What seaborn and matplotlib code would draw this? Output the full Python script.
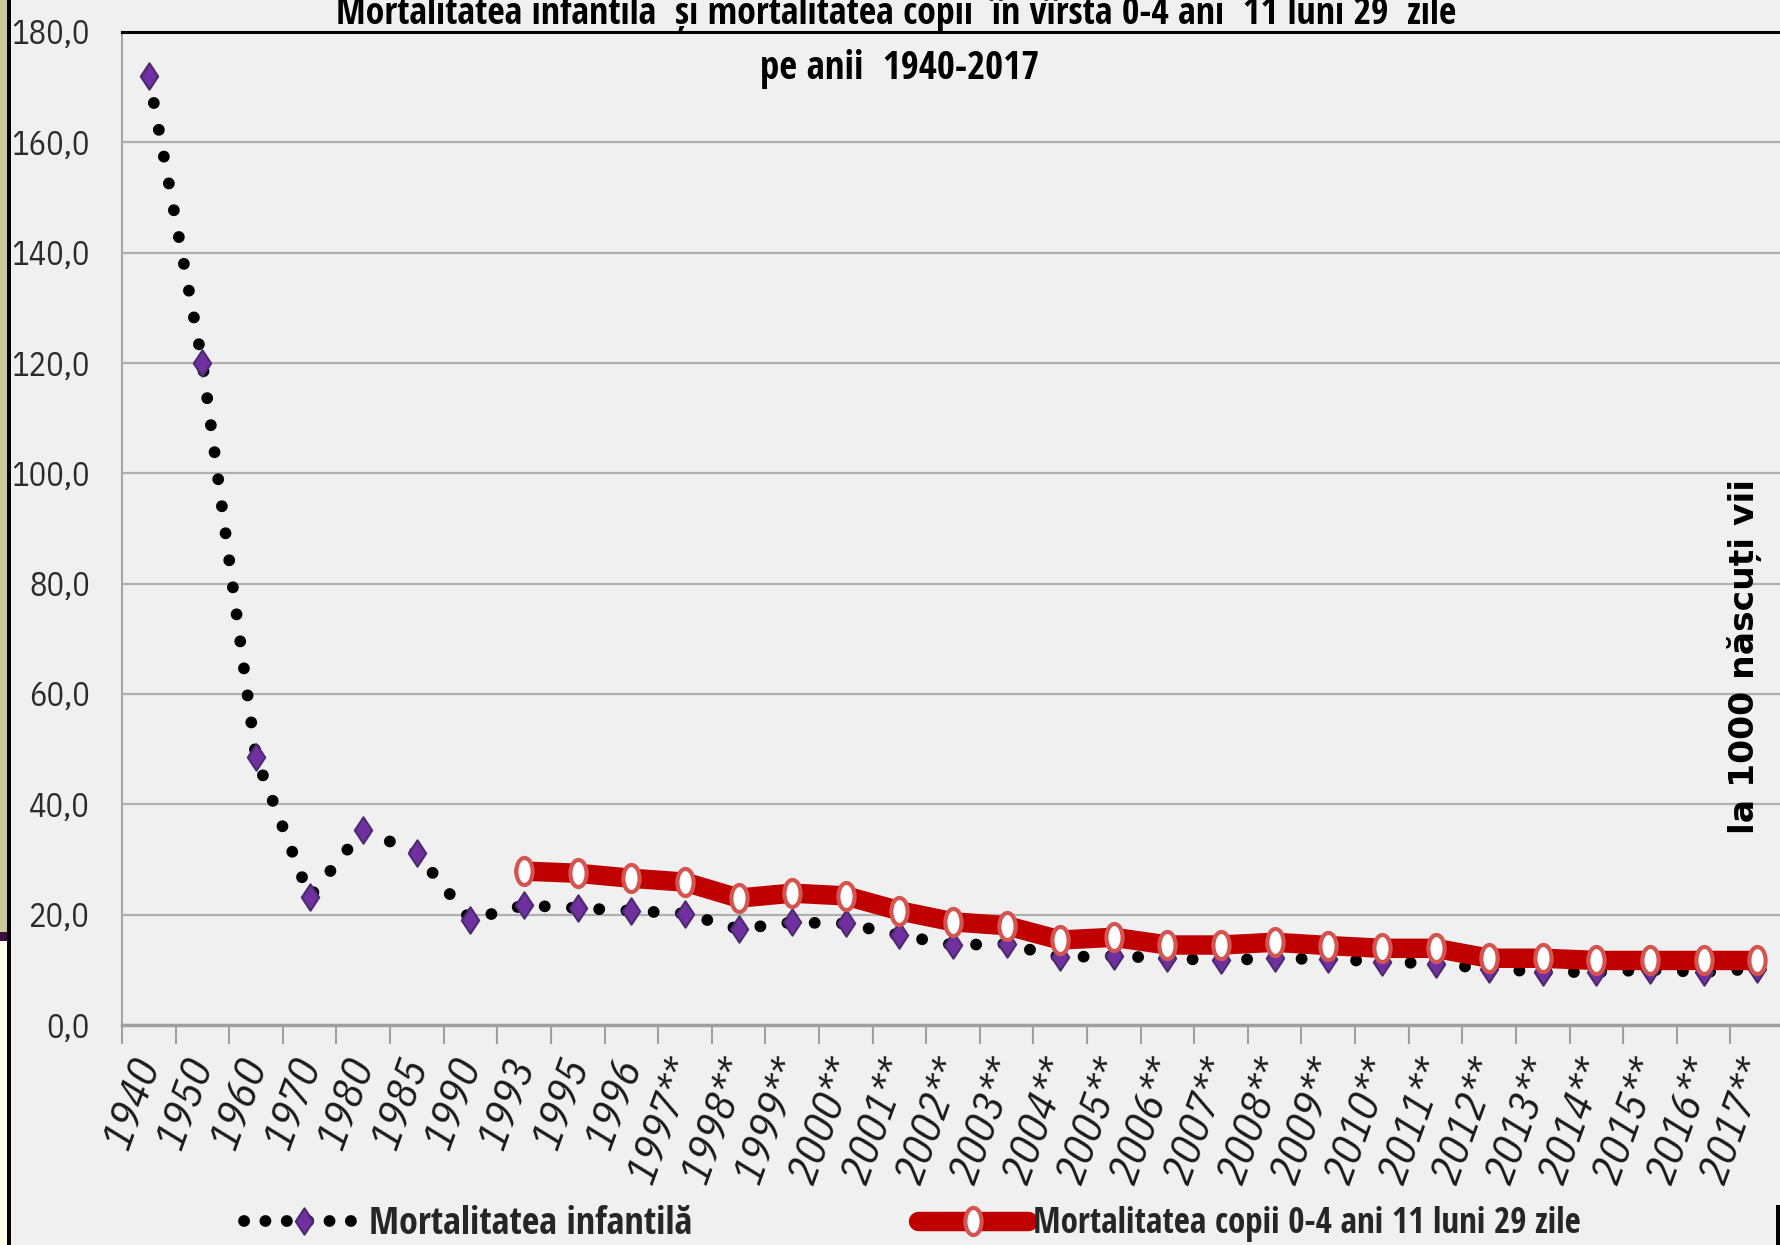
import matplotlib
matplotlib.use("Agg")
import matplotlib.pyplot as plt
import numpy as np
import pandas as pd
import seaborn as sns
from matplotlib.lines import Line2D
from matplotlib.path import Path
from matplotlib.patches import Rectangle
from matplotlib.transforms import Affine2D
from matplotlib.ticker import FuncFormatter

# categories (years) and the two series
years = ["1940", "1950", "1960", "1970", "1980", "1985", "1990", "1993", "1995", "1996",
         "1997**", "1998**", "1999**", "2000**", "2001**", "2002**", "2003**", "2004**",
         "2005**", "2006**", "2007**", "2008**", "2009**", "2010**", "2011**", "2012**",
         "2013**", "2014**", "2015**", "2016**", "2017**"]

infant = [172.0, 120.0, 48.5, 23.2, 35.4, 31.1, 19.1, 21.7, 21.2, 20.7,
          20.2, 17.4, 18.6, 18.4, 16.3, 14.5, 14.7, 12.3, 12.5, 12.1, 11.7,
          12.1, 11.9, 11.5, 11.1, 10.2, 9.6, 9.6, 10.0, 9.6, 10.2]

under5 = [np.nan] * 7 + [27.9, 27.5, 26.6,
                         25.9, 23.0, 23.9, 23.4, 20.7, 18.7, 18.0, 15.4, 15.9, 14.5, 14.5,
                         15.0, 14.4, 13.9, 13.9, 12.1, 12.1, 11.7, 11.7, 11.7, 11.7]

title = "Mortalitatea infantila  și mortalitatea copii  în vîrsta 0-4 ani  11 luni 29  zile"
subtitle = "pe anii  1940-2017"
unit_label = "la 1000 născuți vii"
label_infant = "Mortalitatea infantilă"
label_under5 = "Mortalitatea copii 0-4 ani 11 luni 29 zile"

sns.set_theme(style="white")
narrow = ["IBM Plex Sans Condensed", "DejaVu Sans"]
narrow_bold = ["Open Sans Condensed", "IBM Plex Sans Condensed", "DejaVu Sans"]
plt.rcParams["font.family"] = narrow

W, H = 1781, 1245
BG = "#f0f0f0"
fig = plt.figure(figsize=(W / 100, H / 100), dpi=100, facecolor=BG)
renderer = fig.canvas.get_renderer()


def fit_size(s, target_px, base=20, **kw):
    # font size that makes text s about target_px wide
    t = fig.text(0, 0, s, fontsize=base, **kw)
    w = t.get_window_extent(renderer).width
    t.remove()
    return base * target_px / w


ax = fig.add_axes([122 / W, 1 - 1025 / H, 1662 / W, 993 / H])
ax.set_facecolor(BG)

df = pd.DataFrame({"an": years, "infant": infant, "sub5": under5})

diamond = Path([(0, 1), (0.66, 0), (0, -1), (-0.66, 0), (0, 1)],
               [Path.MOVETO, Path.LINETO, Path.LINETO, Path.LINETO, Path.CLOSEPOLY])
ellipse = Affine2D().scale(0.6, 1.0).transform_path(Path.unit_circle())

dots = dict(linestyle=(0, (0.01, 2.3)), linewidth=8.5, dash_capstyle="round")
diam = dict(marker=diamond, markersize=19, markerfacecolor="#7030a0",
            markeredgecolor="#4b2a70", markeredgewidth=1.5)
red = dict(linestyle="-", linewidth=14)
circ = dict(marker=ellipse, markersize=19.5, markerfacecolor="white",
            markeredgecolor="#d4544f", markeredgewidth=3)

sns.pointplot(data=df, x="an", y="infant", order=years, ax=ax, errorbar=None,
              color="black", zorder=3, **dots, **diam)
sns.pointplot(data=df, x="an", y="sub5", order=years, ax=ax, errorbar=None,
              color="#c00000", zorder=4, **red, **circ)

ax.set_xlabel("")
ax.set_ylabel("")
ax.set_ylim(0, 180)
ax.set_xlim(-0.5, len(years) - 0.5)
ax.set_yticks(range(0, 181, 20))
ax.yaxis.set_major_formatter(FuncFormatter(lambda v, p: f"{v:.1f}".replace(".", ",")))
ytick_size = fit_size("180,0", 78)
ax.tick_params(axis="y", length=0, pad=23, labelsize=ytick_size, labelcolor="#2b2b2b")

xtick_size = fit_size("1940", 94, fontstyle="italic")
ax.set_xticks(range(len(years)))
ax.set_xticklabels(years, rotation=70, ha="right", va="center",
                   rotation_mode="anchor", fontstyle="italic", fontsize=xtick_size)
ax.tick_params(axis="x", which="major", length=0, pad=25, labelcolor="#1a1a1a")
ax.set_xticks(np.arange(-0.5, len(years), 1), minor=True)
ax.tick_params(axis="x", which="minor", length=14, width=1.5, color="#a0a0a0",
               direction="out", bottom=True)

ax.yaxis.grid(True, color="#b0b0b0", linewidth=1.6)
ax.xaxis.grid(False)
ax.set_axisbelow(True)
ax.spines["top"].set_color("black")
ax.spines["top"].set_linewidth(2.2)
ax.spines["left"].set_color("#a6a6a6")
ax.spines["left"].set_linewidth(1.5)
ax.spines["bottom"].set_color("#a0a0a0")
ax.spines["bottom"].set_linewidth(2.5)
ax.spines["right"].set_visible(False)

bold = dict(fontweight="bold", family=narrow_bold)
fig.text(896 / W, 1 - 24 / H, title, ha="center", va="baseline",
         fontsize=fit_size(title, 1123, **bold), color="black", **bold)
fig.text(900 / W, 1 - 79 / H, subtitle, ha="center", va="baseline",
         fontsize=fit_size(subtitle, 279, **bold), color="black", **bold)
unit_kw = dict(fontweight="bold", family=["DejaVu Sans"])
fig.text(1745 / W, 1 - 657 / H, unit_label, rotation=90, ha="center", va="center",
         fontsize=fit_size(unit_label, 355, **unit_kw), color="black", **unit_kw)

size1 = fit_size(label_infant, 324, **bold)
size2 = fit_size(label_under5, 548, **bold)
h1 = Line2D([], [], color="black", linestyle=(0, (0.01, 1.8)), linewidth=8.5,
            dash_capstyle="round", **diam)
h2 = Line2D([], [], color="#c00000", **red, **circ)
leg_kw = dict(loc="center left", frameon=False, borderpad=0, borderaxespad=0)
fig.legend([h1], [label_infant], bbox_to_anchor=(244 / W, 1 - 1224 / H),
           handlelength=86 / size1, handletextpad=4 / size1,
           prop={"family": narrow_bold, "weight": "bold", "size": size1}, **leg_kw)
fig.legend([h2], [label_under5], bbox_to_anchor=(918 / W, 1 - 1224 / H),
           handlelength=79 / size2, handletextpad=4 / size2,
           prop={"family": narrow_bold, "weight": "bold", "size": size2}, **leg_kw)

# screenshot frame remnants on the left and bottom-right
def px_rect(x, y, w, h, color):
    fig.add_artist(Rectangle((x / W, 1 - (y + h) / H), w / W, h / H,
                             transform=fig.transFigure, color=color, lw=0, zorder=5))

px_rect(0, 0, 7, 932, "#cdc99a")
px_rect(0, 932, 9, 9, "#3a0f3f")
px_rect(0, 941, 7, 304, "#fffde8")
px_rect(7, 0, 4, 1245, "black")
px_rect(1776, 1205, 5, 40, "black")

fig.savefig("out.png", dpi=100, facecolor=BG)
